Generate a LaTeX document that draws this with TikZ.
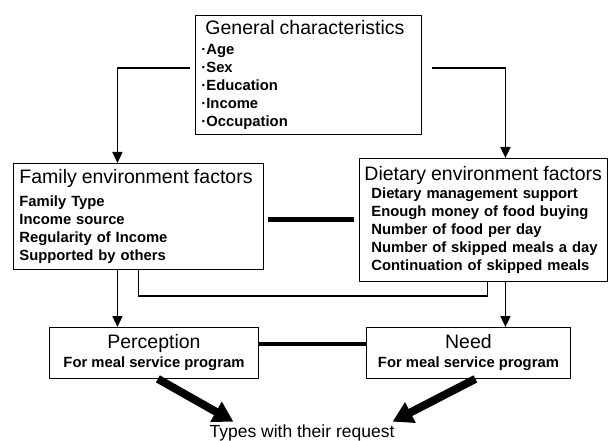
\documentclass[tikz,border=0pt]{standalone}
\usepackage{fontspec}
\setmainfont{Liberation Sans}
\usetikzlibrary{arrows.meta}
\usetikzlibrary{positioning}

\newcommand\boxhead{\fontsize{19.5}{22}\mdseries\selectfont}
\newcommand\boxitem{\fontsize{14.8}{18}\bfseries\selectfont}

\begin{document}
\begin{tikzpicture}[x=1pt, y=-1pt,
    factorbox/.style={draw, line width=0.9pt, anchor=north west, inner xsep=6pt, align=left, font=\boxitem},
    resultbox/.style={draw, line width=0.9pt, anchor=north west, inner sep=0pt, minimum height=51pt, align=center, font=\boxitem},
    link/.style={line width=1.8pt},
    arrowlink/.style={link, -{Triangle[length=11pt,width=10pt]}},
    bar/.style={line width=4.5pt},
    bigarrow/.style={line width=8pt, -{Triangle[length=20pt,width=22pt]}}]
    \useasboundingbox (0,0) rectangle (608,441);

    % boxes
    \node[factorbox, inner ysep=5pt, text width=214pt] (gen) at (195,15)
        {\hspace*{4pt}{\boxhead General characteristics}\\[2pt]
         ·Age\\ ·Sex\\ ·Education\\ ·Income\\ ·Occupation};
    \node[factorbox, inner ysep=6pt, text width=238pt] (fam) at (13,163)
        {{\boxhead Family environment factors}\\[5pt]
         Family Type\\ Income source\\ Regularity of Income\\ Supported by others};
    \node[factorbox, inner xsep=5pt, inner ysep=8pt, text width=238pt] (diet) at (359,158)
        {{\boxhead Dietary environment factors}\\[0pt]
         \hspace*{7pt}Dietary management support\\
         \hspace*{7pt}Enough money of food buying\\
         \hspace*{7pt}Number of food per day\\
         \hspace*{7pt}Number of skipped meals a day\\
         \hspace*{7pt}Continuation of skipped meals};
    \node[resultbox, minimum width=209pt] (percep) at (49,327)
        {{\boxhead Perception}\\[1pt] For meal service program};
    \node[resultbox, minimum width=204pt] (need) at (366,327)
        {{\boxhead Need}\\[1pt] For meal service program};
    \node[font=\fontsize{17.5}{20}\selectfont, inner sep=0pt] (types) at (302,433)
        {Types with their request};

    % connectors
    \draw[arrowlink] ([xshift=-5pt,yshift=7pt]gen.west) -| ([xshift=-21pt]fam.north);
    \draw[arrowlink] ([xshift=10pt,yshift=7pt]gen.east) -| ([xshift=22pt]diet.north);
    \draw[arrowlink] ([xshift=-21pt]fam.south) -- ([xshift=-21pt]fam.south |- percep.north);
    \draw[arrowlink] ([xshift=22pt]diet.south) -- ([xshift=22pt]diet.south |- need.north);
    \draw[link] (fam.south) -- ++(0,26) -| ([xshift=4pt]diet.south);
    \draw[bar] ([xshift=4pt,yshift=-3pt]fam.east) -- ++(86,0);
    \draw[bar] ([yshift=9pt]percep.east) -- ([yshift=9pt]need.west);
    \draw[bigarrow] ([xshift=4pt]percep.south) -- ([xshift=24pt,yshift=3pt]types.north west);
    \draw[bigarrow] ([xshift=7pt]need.south) -- ([xshift=-2pt,yshift=3pt]types.north east);
\end{tikzpicture}
\end{document}
